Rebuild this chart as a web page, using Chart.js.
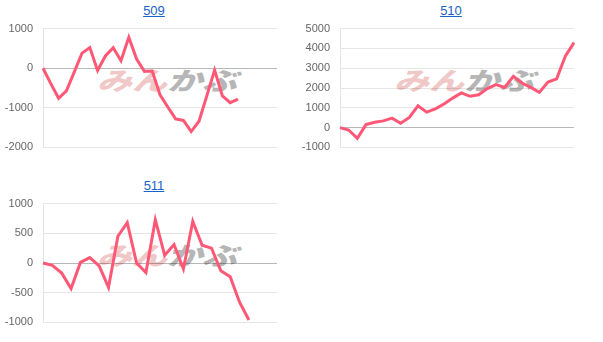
<!DOCTYPE html>
<html>
<head>
<meta charset="utf-8">
<script src="https://cdn.jsdelivr.net/npm/chart.js@4/dist/chart.umd.min.js"></script>
<style>
  body { margin: 0; background: #fff; font-family: Arial, "Liberation Sans", sans-serif; }
  .box { position: absolute; width: 297px; height: 175px; }
  .title { position: absolute; left: 0; top: 3px; width: 308px; text-align: center; font-size: 13px; }
  .title a { color: #1a63c6; text-decoration: underline; }
  .mark { position: absolute; left: 97px; top: 61px; font-family: "Noto Sans CJK JP", sans-serif;
          font-weight: 900; font-style: italic; font-size: 25px; white-space: nowrap;
          transform: scaleX(1.4); transform-origin: left top; z-index: 0; }
  .mark .r { color: rgba(220, 110, 110, 0.4); }
  .mark .g { color: rgba(110, 110, 110, 0.5); }
  .box canvas { position: absolute; left: 0; top: 12px; z-index: 1; }
</style>
</head>
<body>
<div class="box" style="left:0;top:0">
  <div class="title"><a href="#">509</a></div>
  <div class="mark"><span class="r">みん</span><span class="g">かぶ</span></div>
  <canvas id="c509" width="285" height="152"></canvas>
</div>
<div class="box" style="left:297px;top:0">
  <div class="title"><a href="#">510</a></div>
  <div class="mark"><span class="r">みん</span><span class="g">かぶ</span></div>
  <canvas id="c510" width="285" height="152"></canvas>
</div>
<div class="box" style="left:0;top:175px">
  <div class="title"><a href="#">511</a></div>
  <div class="mark"><span class="r">みん</span><span class="g">かぶ</span></div>
  <canvas id="c511" width="285" height="152"></canvas>
</div>
<script>
const labels509 = ['1','2','3','4','5','6','7','8','9','10','11','12','13','14','15','16','17','18','19','20','21','22','23','24','25','26','27','28','29','30','31'];
const values509 = [0, -390, -760, -570, -100, 380, 520, -60, 310, 520, 190, 780, 230, -80, -70, -670, -980, -1280, -1320, -1600, -1340, -700, -50, -700, -870, -780];

const labels510 = ['1','2','3','4','5','6','7','8','9','10','11','12','13','14','15','16','17','18','19','20','21','22','23','24','25','26','27','28'];
const values510 = [0, -120, -540, 150, 270, 340, 480, 220, 510, 1100, 780, 950, 1190, 1490, 1750, 1580, 1660, 1970, 2170, 2030, 2590, 2250, 2030, 1780, 2300, 2460, 3610, 4290];

const labels511 = ['1','2','3','4','5','6','7','8','9','10','11','12','13','14','15','16','17','18','19','20','21','22','23','24','25','26'];
const values511 = [0, -40, -170, -430, 10, 90, -50, -410, 450, 680, 0, -160, 730, 130, 310, -100, 700, 300, 250, -130, -230, -660, -960];

function drawChart(id, labels, values, min, max, step) {
    const ctx = document.getElementById(id).getContext('2d');
    return new Chart(ctx, {
        type: 'line',
        data: {
            labels: labels,
            datasets: [{
                data: values,
                borderColor: 'rgb(255, 88, 118)',
                borderWidth: 3,
                pointRadius: 0,
                tension: 0,
                fill: false
            }]
        },
        options: {
            responsive: false,
            animation: false,
            layout: { padding: { top: 0, right: 8, bottom: 0, left: 0 } },
            plugins: { legend: { display: false }, tooltip: { enabled: false } },
            scales: {
                x: { display: false },
                y: {
                    min: min,
                    max: max,
                    afterFit: scale => { scale.width = 43; },
                    border: { color: 'rgba(0,0,0,0.1)' },
                    grid: {
                        drawTicks: false,
                        color: c => c.tick && c.tick.value === 0 ? 'rgba(0,0,0,0.28)' : 'rgba(0,0,0,0.1)'
                    },
                    ticks: {
                        stepSize: step,
                        padding: 10,
                        color: '#666',
                        font: { family: 'Arial, "Liberation Sans"', size: 11 },
                        callback: v => String(v)
                    }
                }
            }
        }
    });
}

drawChart('c509', labels509, values509, -2000, 1000, 1000);
drawChart('c510', labels510, values510, -1000, 5000, 1000);
drawChart('c511', labels511, values511, -1000, 1000, 500);
</script>
</body>
</html>
